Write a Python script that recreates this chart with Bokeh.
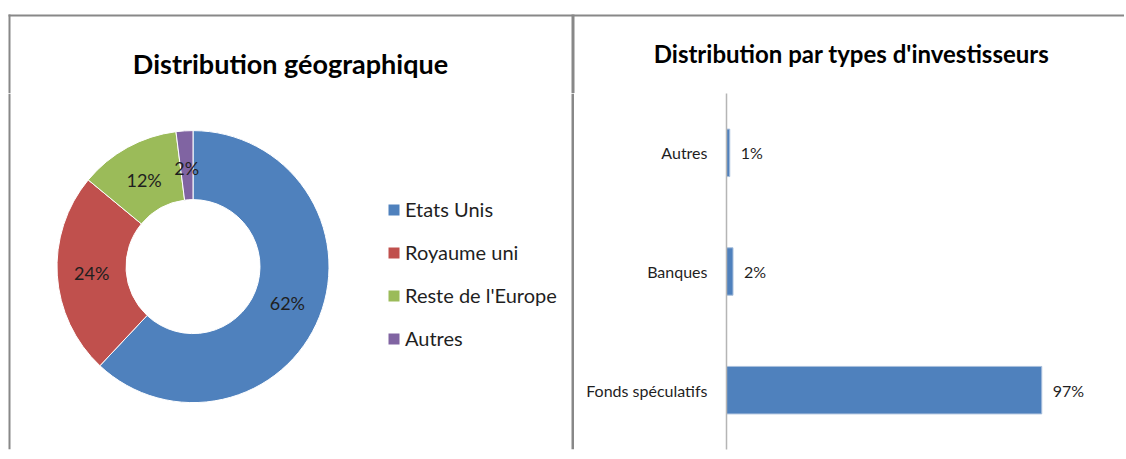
import numpy as np
from bokeh.plotting import figure
from bokeh.layouts import column, row
from bokeh.models import (ColumnDataSource, FactorRange, Range1d, Legend,
                          LegendItem, BoxAnnotation)
from bokeh.core.properties import value
from bokeh.embed import file_html
from bokeh.resources import INLINE

# ---------------- data ----------------
geo_title = "Distribution géographique"
geo_regions = ["Etats Unis", "Royaume uni", "Reste de l'Europe", "Autres"]
geo_shares = [62, 24, 12, 2]
geo_colors = ["#4F81BD", "#C0504D", "#9BBB59", "#8064A2"]

inv_title = "Distribution par types d'investisseurs"
inv_types = ["Fonds spéculatifs", "Banques", "Autres"]   # bottom -> top
inv_shares = [97, 2, 1]
bar_color = "#4F81BD"

# ---------------- styling ----------------
FONT = "Lato"
BORDER = "#888888"
TEXT = "#1f1f1f"

PAD = 8            # white space left of the panels
W = 1124           # total width
TOP_H = 93
BODY_H = 364
LW = 574
RW = W - LW


def border(fig, **kw):
    fig.add_layout(BoxAnnotation(fill_color=BORDER, fill_alpha=1.0,
                                 line_alpha=0, level="overlay", **kw))


# ---------------- top strip with the two titles ----------------
top = figure(width=W, height=TOP_H, x_range=Range1d(-PAD, W - PAD), y_range=Range1d(0, TOP_H),
             x_axis_location=None, y_axis_location=None, toolbar_location=None,
             output_backend="svg", min_border=0, outline_line_color=None)
top.grid.visible = False
border(top, left=0, right=W, bottom=77, top=79)
border(top, left=0, right=2, bottom=0, top=79)
border(top, left=563, right=566, bottom=0, top=79)
top.text(x=[282], y=[30], text=[geo_title], text_font=value(FONT),
         text_font_style="bold", text_font_size="27px", text_align="center",
         text_baseline="alphabetic", text_color="#000000")
top.text(x=[843], y=[40], text=[inv_title], text_font=value(FONT),
         text_font_style="bold", text_font_size="24px", text_align="center",
         text_baseline="alphabetic", text_color="#000000")

# ---------------- left: donut ----------------
pl = figure(width=LW, height=BODY_H, x_range=Range1d(-PAD, LW - PAD), y_range=Range1d(0, BODY_H),
            x_axis_location=None, y_axis_location=None, toolbar_location=None,
            output_backend="svg", min_border=0, outline_line_color=None)
pl.grid.visible = False
border(pl, left=0, right=2)
border(pl, left=563, right=566)

shares = np.array(geo_shares, dtype=float)
frac = shares / shares.sum()
cum_end = np.cumsum(frac)
cum_start = cum_end - frac
start = np.pi / 2 - cum_start * 2 * np.pi
end = np.pi / 2 - cum_end * 2 * np.pi
mid = np.pi / 2 - (cum_start + frac / 2) * 2 * np.pi

cx, cy = 184.5, 187.0
r_out, r_in = 136.0, 67.0
r_mid = (r_out + r_in) / 2

src = ColumnDataSource(dict(
    region=geo_regions, start=start, end=end, color=geo_colors,
    lx=cx + r_mid * np.cos(mid), ly=cy + r_mid * np.sin(mid),
    label=[f"{v}%" for v in geo_shares]))

wedges = pl.annular_wedge(x=cx, y=cy, inner_radius=r_in, outer_radius=r_out,
                          start_angle="start", end_angle="end", direction="clock",
                          fill_color="color", line_color="white", line_width=1,
                          source=src)
pl.text(x="lx", y="ly", text="label", source=src, text_font=value(FONT),
        text_font_size="18px", text_align="center", text_baseline="middle",
        text_color=TEXT)

legend = Legend(items=[LegendItem(label=r, renderers=[wedges], index=i)
                       for i, r in enumerate(geo_regions)],
                location=(386, 99), orientation="vertical",
                glyph_width=15, glyph_height=15, label_height=15,
                spacing=19, label_standoff=4, padding=0, margin=0,
                border_line_color=None, background_fill_alpha=0,
                label_text_font=FONT, label_text_font_size="20px",
                label_text_color=TEXT)
pl.add_layout(legend)

# ---------------- right: horizontal bars ----------------
pr = figure(width=RW, height=BODY_H, y_range=FactorRange(*inv_types),
            x_range=Range1d(0, 120), x_axis_location=None,
            toolbar_location=None, output_backend="svg",
            min_border_left=152, min_border_right=8, min_border_top=0,
            min_border_bottom=8, outline_line_color=None)
pr.grid.visible = False
pr.yaxis.axis_line_color = "#b5b5b5"
pr.yaxis.axis_line_width = 1.5
pr.yaxis.major_tick_line_color = None
pr.yaxis.minor_tick_line_color = None
pr.yaxis.major_label_standoff = 13
pr.yaxis.major_label_text_font = FONT
pr.yaxis.major_label_text_font_size = "16px"
pr.yaxis.major_label_text_color = TEXT

bsrc = ColumnDataSource(dict(kind=inv_types, share=inv_shares,
                             label=[f"{v}%" for v in inv_shares]))
pr.hbar(y="kind", left=0, right="share", height=0.4, source=bsrc,
        fill_color=bar_color, line_color="#a8bfdc", line_width=1)
pr.text(x="share", y="kind", text="label", source=bsrc, x_offset=11,
        text_font=value(FONT), text_font_size="16px", text_align="left",
        text_baseline="middle", text_color=TEXT)

layout = column(top, row(pl, pr, spacing=0), spacing=0)

with open("out.html", "w") as f:
    f.write(file_html(layout, INLINE, title="Distribution"))
